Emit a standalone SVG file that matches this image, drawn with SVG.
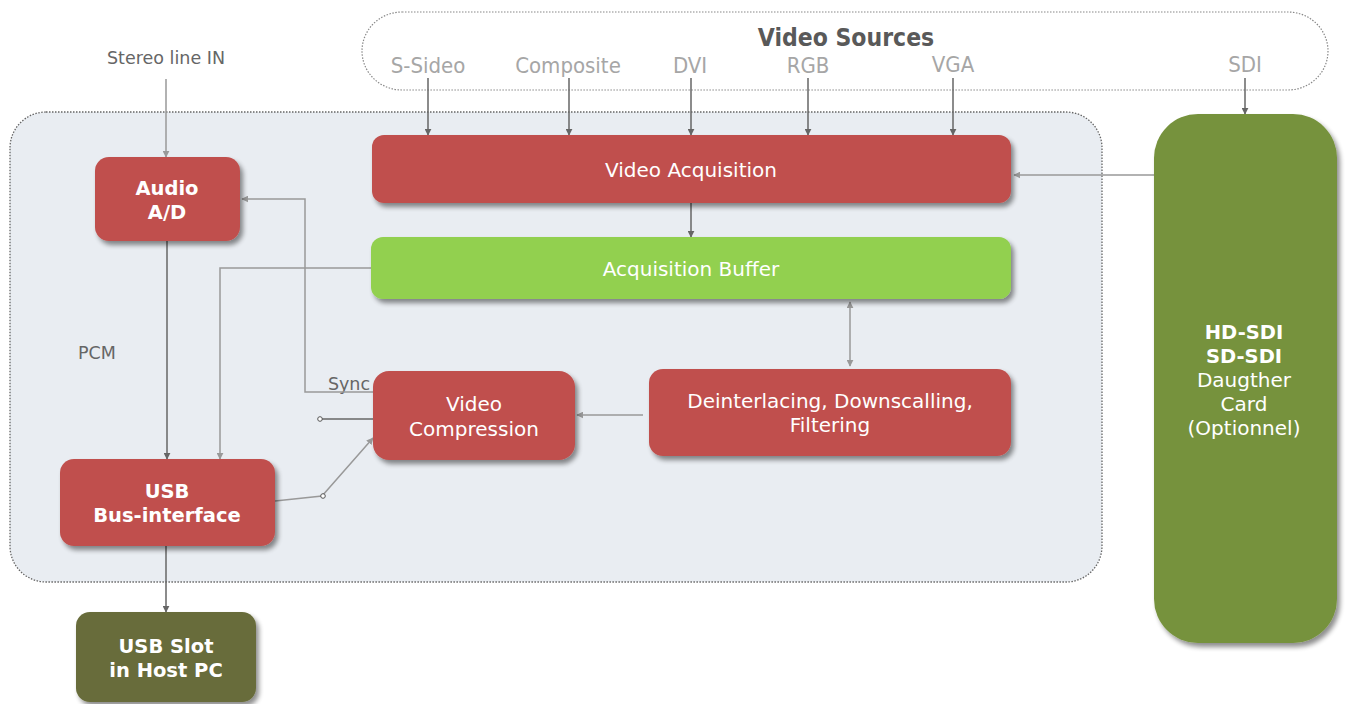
<svg xmlns="http://www.w3.org/2000/svg" width="1347" height="704" viewBox="0 0 1347 704">
<defs>
<filter id="sh" x="-10%" y="-10%" width="130%" height="140%">
<feGaussianBlur in="SourceAlpha" stdDeviation="2.5"/>
<feOffset dx="3" dy="4" result="b"/>
<feComponentTransfer><feFuncA type="linear" slope="0.45"/></feComponentTransfer>
<feMerge><feMergeNode/><feMergeNode in="SourceGraphic"/></feMerge>
</filter>
<marker id="ah" viewBox="0 0 10 10" refX="9" refY="5" markerWidth="7" markerHeight="7" orient="auto-start-reverse" markerUnits="userSpaceOnUse">
<path d="M0,0 L10,5 L0,10 z" fill="#666"/>
</marker>
<marker id="ahl" viewBox="0 0 10 10" refX="9" refY="5" markerWidth="7" markerHeight="7" orient="auto-start-reverse" markerUnits="userSpaceOnUse">
<path d="M0,0 L10,5 L0,10 z" fill="#999"/>
</marker>
</defs>
<style>
.red{fill:#c0504d}
.grn{fill:#92d050}
.olv{fill:#76923c}
.dk{fill:#686c3a}
.t{font-family:"DejaVu Sans",Verdana,sans-serif;font-size:20px;fill:#fff;text-anchor:middle}
.b{font-weight:bold;font-size:19.5px}
.lbl{font-family:"DejaVu Sans",Verdana,sans-serif;font-size:17.5px;fill:#666;text-anchor:middle}
.src{font-family:"Liberation Sans Narrow","DejaVu Sans Condensed","Liberation Sans",sans-serif;font-size:22px;fill:#a6a6a6;text-anchor:middle}
.c{fill:none;stroke:#666;stroke-width:1.5}
.cl{fill:none;stroke:#999;stroke-width:1.5}
</style>
<rect width="1347" height="704" fill="#fff"/>
<g id="video-sources">
<rect x="362" y="12" width="966" height="78" rx="40" fill="none" stroke="#888" stroke-width="1.2" stroke-dasharray="1.5,1.5"/>
<text x="846" y="46" font-family="Liberation Sans Narrow,DejaVu Sans Condensed,Liberation Sans,sans-serif" font-size="24.5" font-weight="bold" fill="#595959" text-anchor="middle">Video Sources</text>
<text class="src" x="428" y="73">S-Sideo</text>
<text class="src" x="568" y="73">Composite</text>
<text class="src" x="690" y="73">DVI</text>
<text class="src" x="808" y="73">RGB</text>
<text class="src" x="953" y="72">VGA</text>
<text class="src" x="1245" y="72">SDI</text>
</g>
<g id="board">
<rect x="10" y="112" width="1092" height="470" rx="36" fill="#e9edf2" stroke="#666" stroke-width="1.3" stroke-dasharray="1.5,1.5"/>
</g>
<g id="labels">
<text class="lbl" x="166" y="64">Stereo line IN</text>
<text class="lbl" x="97" y="359">PCM</text>
<text class="lbl" x="349" y="390">Sync</text>
</g>
<g id="connectors">
<line class="cl" x1="166" y1="79" x2="166" y2="157" marker-end="url(#ahl)"/>
<line class="c" x1="428" y1="78" x2="428" y2="135" marker-end="url(#ah)"/>
<line class="c" x1="569" y1="78" x2="569" y2="135" marker-end="url(#ah)"/>
<line class="c" x1="691" y1="78" x2="691" y2="135" marker-end="url(#ah)"/>
<line class="c" x1="808" y1="78" x2="808" y2="135" marker-end="url(#ah)"/>
<line class="c" x1="953" y1="78" x2="953" y2="135" marker-end="url(#ah)"/>
<line class="c" x1="1245" y1="78" x2="1245" y2="114" marker-end="url(#ah)"/>
<line class="cl" x1="1154" y1="175" x2="1014" y2="175" marker-end="url(#ahl)"/>
<line class="c" x1="691" y1="203" x2="691" y2="237" marker-end="url(#ah)"/>
<line class="cl" x1="850" y1="302" x2="850" y2="366" marker-start="url(#ahl)" marker-end="url(#ahl)"/>
<line class="cl" x1="643" y1="415" x2="577" y2="415" marker-end="url(#ahl)"/>
<line class="c" x1="167" y1="241" x2="167" y2="459" marker-end="url(#ah)"/>
<polyline class="cl" points="371,268 220,268 220,459" marker-end="url(#ahl)"/>
<polyline class="cl" points="373,392 305,392 305,199 242,199" marker-end="url(#ahl)"/>
<line class="c" x1="322" y1="419" x2="377" y2="419"/>
<circle cx="320" cy="419" r="2.3" fill="#fff" stroke="#555" stroke-width="1"/>
<polyline class="cl" points="275,501 322,496 373,438" marker-end="url(#ahl)"/>
<circle cx="323" cy="496" r="2.3" fill="#fff" stroke="#555" stroke-width="1"/>
<line class="c" x1="166" y1="546" x2="166" y2="612" marker-end="url(#ah)"/>
</g>
<g id="video-acquisition">
<rect class="red" x="372" y="135" width="639" height="68" rx="12" filter="url(#sh)"/>
<text class="t" x="691" y="177">Video Acquisition</text>
</g>
<g id="acquisition-buffer">
<rect class="grn" x="371" y="237" width="640" height="62" rx="12" filter="url(#sh)"/>
<text class="t" x="691" y="276">Acquisition Buffer</text>
</g>
<g id="audio-ad">
<rect class="red" x="95" y="157" width="145" height="84" rx="14" filter="url(#sh)"/>
<text class="t b" x="167" y="195">Audio</text>
<text class="t b" x="167" y="219">A/D</text>
</g>
<g id="deinterlacing">
<rect class="red" x="649" y="369" width="362" height="87" rx="14" filter="url(#sh)"/>
<text class="t" x="830" y="408">Deinterlacing, Downscalling,</text>
<text class="t" x="830" y="432">Filtering</text>
</g>
<g id="video-compression">
<rect class="red" x="373" y="371" width="202" height="89" rx="16" filter="url(#sh)"/>
<text class="t" x="474" y="411">Video</text>
<text class="t" x="474" y="436">Compression</text>
</g>
<g id="usb-bus">
<rect class="red" x="60" y="459" width="215" height="87" rx="14" filter="url(#sh)"/>
<text class="t b" x="167" y="498">USB</text>
<text class="t b" x="167" y="522">Bus-interface</text>
</g>
<g id="usb-slot">
<rect class="dk" x="76" y="612" width="180" height="90" rx="14" filter="url(#sh)"/>
<text class="t b" x="166" y="653">USB Slot</text>
<text class="t b" x="166" y="677">in Host PC</text>
</g>
<g id="sdi-card">
<rect class="olv" x="1154" y="114" width="183" height="529" rx="44" filter="url(#sh)"/>
<text class="t b" x="1244" y="339">HD-SDI</text>
<text class="t b" x="1244" y="363">SD-SDI</text>
<text class="t" x="1244" y="387">Daugther</text>
<text class="t" x="1244" y="411">Card</text>
<text class="t" x="1244" y="435">(Optionnel)</text>
</g>
</svg>
